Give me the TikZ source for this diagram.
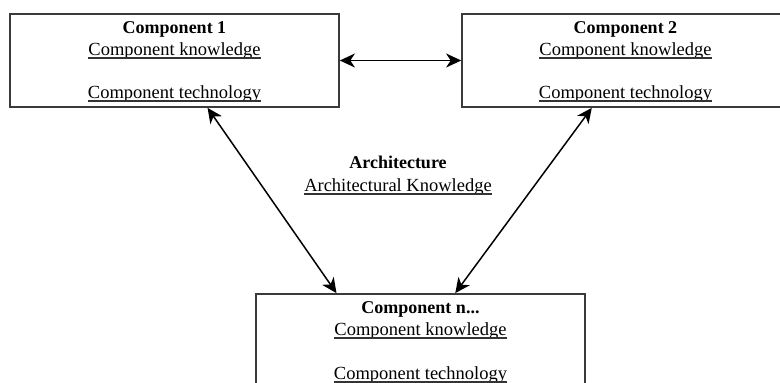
\documentclass[tikz,border=0pt]{standalone}
\usepackage{fontspec}
\setmainfont{Liberation Serif}
\usetikzlibrary{arrows.meta,calc}
\definecolor{boxgray}{HTML}{3A3A3A}
\begin{document}
\begin{tikzpicture}[x=1pt,y=-1pt,
  box/.style={draw=boxgray, line width=1.7pt, minimum width=329pt, minimum height=93pt, inner sep=0pt},
  head/.style={font=\fontsize{18}{22}\selectfont\bfseries, inner sep=0pt, anchor=base},
  link/.style={font=\fontsize{18.5}{22}\selectfont, inner sep=0pt, anchor=base},
  ul/.style={line width=1.1pt, draw=black!80},
  conn/.style={line width=1.5pt,
    {Stealth[length=15pt,width=14pt,inset=4.5pt]}-{Stealth[length=15pt,width=14pt,inset=4.5pt]}}
]
\useasboundingbox (0,0) rectangle (780,383);
\clip (0,0) rectangle (780,383);

% component boxes
\node[box] (c1) at (174.5,60.5) {};
\node[box] (c2) at (626.5,60.5) {};
\node[box] (cn) at (420.5,340.5) {};

% box contents
\node[head] (c1h) at (174.5,33) {Component 1};
\node[link] (c1k) at (174.5,55) {Component knowledge};
\node[link] (c1t) at (174.5,98) {Component technology};

\node[head] (c2h) at (625.5,33) {Component 2};
\node[link] (c2k) at (625.5,55) {Component knowledge};
\node[link] (c2t) at (625.5,98) {Component technology};

\node[head] (cnh) at (420.5,313) {Component n...};
\node[link] (cnk) at (420.5,335) {Component knowledge};
\node[link] (cnt) at (420.5,379) {Component technology};

% centre label
\node[head] (ah) at (398,168) {Architecture};
\node[link] (ak) at (398,191) {Architectural Knowledge};

% underlines of the link texts
\foreach \n in {c1k,c1t,c2k,c2t,cnk,cnt,ak}
  \draw[ul] ([yshift=-3pt]\n.base west) -- ([yshift=-3pt]\n.base east);

% connectors
\draw[conn] (c1.east) -- (c2.west);
\draw[conn] ($(c1.south west)!0.6!(c1.south east)$) -- ($(cn.north west)!0.246!(cn.north east)$);
\draw[conn] ($(c2.south west)!0.395!(c2.south east)$) -- ($(cn.north west)!0.605!(cn.north east)$);
\end{tikzpicture}
\end{document}
